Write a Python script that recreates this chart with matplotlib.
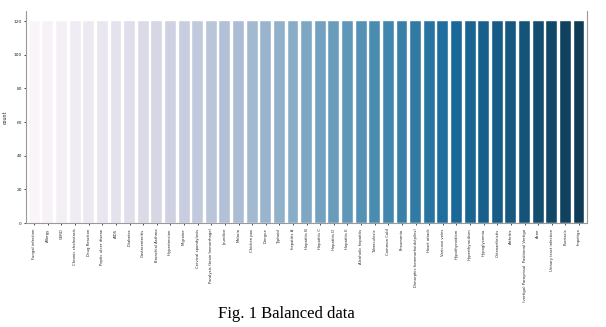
import matplotlib.pyplot as plt
import seaborn as sns

diseases = [
    "Fungal infection", "Allergy", "GERD", "Chronic cholestasis", "Drug Reaction",
    "Peptic ulcer diseae", "AIDS", "Diabetes ", "Gastroenteritis", "Bronchial Asthma",
    "Hypertension ", "Migraine", "Cervical spondylosis", "Paralysis (brain hemorrhage)",
    "Jaundice", "Malaria", "Chicken pox", "Dengue", "Typhoid", "hepatitis A",
    "Hepatitis B", "Hepatitis C", "Hepatitis D", "Hepatitis E", "Alcoholic hepatitis",
    "Tuberculosis", "Common Cold", "Pneumonia", "Dimorphic hemmorhoids(piles)",
    "Heart attack", "Varicose veins", "Hypothyroidism", "Hyperthyroidism",
    "Hypoglycemia", "Osteoarthristis", "Arthritis",
    "(vertigo) Paroymsal  Positional Vertigo", "Acne", "Urinary tract infection",
    "Psoriasis", "Impetigo",
]
counts = [120] * len(diseases)

# seaborn's countplot desaturates its palette to 0.75
colors = [sns.desaturate(c, 0.75) for c in sns.color_palette("PuBu", len(diseases))]

fig = plt.figure(figsize=(6.06, 3.27), dpi=100)
ax = fig.add_axes([0.043, 0.318, 0.926, 0.648])

x = range(len(diseases))
ax.bar(x, counts, width=0.8, color=colors, edgecolor="white", linewidth=0.3)
ax.set_xlim(-0.6, len(diseases) - 0.4)
ax.set_ylim(0, 126)
ax.set_yticks([0, 20, 40, 60, 80, 100, 120])
ax.set_xticks(list(x))
ax.set_xticklabels(diseases, rotation=90, fontsize=2.7, color="#222222")
ax.tick_params(axis="y", labelsize=3.2, labelcolor="#222222", length=1.5, width=0.5, pad=1.5)
ax.tick_params(axis="x", length=1.5, width=0.5, pad=2.5)
ax.set_ylabel("count", fontsize=3.4, color="#222222", labelpad=4)

for side in ["left", "bottom", "right"]:
    ax.spines[side].set_color("#999999")
    ax.spines[side].set_linewidth(0.8)
ax.spines["top"].set_visible(False)

fig.text(0.472, 0.04, "Fig. 1 Balanced data", ha="center", va="center",
         fontsize=12, family="Liberation Serif")

fig.savefig("out.png", dpi=100)
